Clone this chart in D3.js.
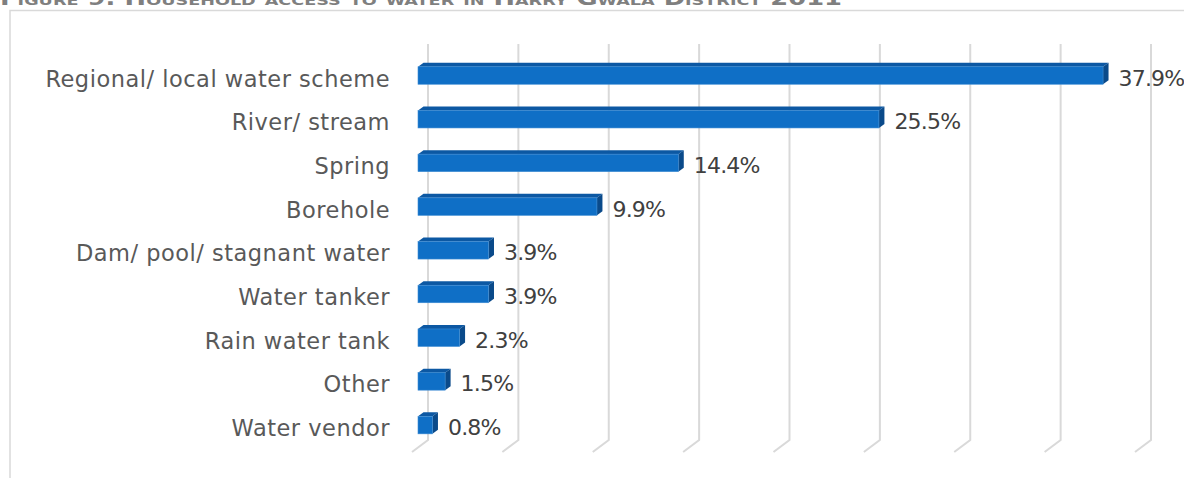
<!DOCTYPE html>
<html>
<head>
<meta charset="utf-8">
<script src="https://cdn.jsdelivr.net/npm/d3@7"></script>
<style>
  html, body { margin: 0; padding: 0; background: #ffffff; overflow: hidden; }
  svg { display: block; }
  text { font-family: "Century Gothic", "URW Gothic", "DejaVu Sans", sans-serif; }
</style>
</head>
<body>
<svg id="chart" width="1184" height="478"></svg>
<script>
// Household water sources, share of households (%)
const categories = [
  "Regional/ local water scheme",
  "River/ stream",
  "Spring",
  "Borehole",
  "Dam/ pool/ stagnant water",
  "Water tanker",
  "Rain water tank",
  "Other",
  "Water vendor"
];
const values = [37.9, 25.5, 14.4, 9.9, 3.9, 3.9, 2.3, 1.5, 0.8];
const tickValues = [0, 5, 10, 15, 20, 25, 30, 35, 40];
const valueLabels = values.map(v => v.toFixed(1) + "%");
const titleText = "Figure 9: Household access to water in Harry Gwala District 2011";

const W = 1184, H = 478;
const svg = d3.select("#chart");

// chart frame (light border, top/left visible)
svg.append("path")
  .attr("d", `M10,${H + 2} L10,10.5 L${W + 2},10.5`)
  .attr("fill", "none")
  .attr("stroke", "#d9d9d9")
  .attr("stroke-width", 1.5);

// title sits above the frame
svg.append("text")
  .attr("x", 0)
  .attr("y", 5)
  .attr("fill", "#7f7f7f")
  .attr("font-weight", "bold")
  .attr("font-size", 19)
  .style("font-variant", "small-caps")
  .attr("textLength", 842)
  .attr("lengthAdjust", "spacingAndGlyphs")
  .text(titleText);

// scales
const x = d3.scaleLinear().domain([0, 40]).range([418, 1141]);
const y = d3.scalePoint().domain(categories).range([53.65, 446.95]).padding(0.5);
const barH = 17.5;

// 3D depth offsets
const depth = { dx: 5.5, dy: -4 };             // bar thickness
const wall = { dx: 10, top: 44, base: 440 };   // back wall gridlines
const floor = { dx: -16, dy: 12 };             // floor run toward the viewer

// gridlines on the back wall with their floor segments
const grid = svg.append("g").attr("class", "grid");
tickValues.forEach(t => {
  const gx = x(t) + wall.dx;
  grid.append("path")
    .attr("d", `M${gx},${wall.top} L${gx},${wall.base} L${gx + floor.dx},${wall.base + floor.dy}`)
    .attr("fill", "none")
    .attr("stroke", "#d9d9d9")
    .attr("stroke-width", 2)
    .attr("stroke-linejoin", "miter");
});

// bars
const bars = svg.append("g").attr("class", "bars")
  .selectAll("g")
  .data(categories.map((c, i) => ({ c, v: values[i], label: valueLabels[i] })))
  .join("g");

bars.each(function(d) {
  const g = d3.select(this);
  const x0 = x(0), x1 = x(d.v);
  const top = y(d.c) - barH / 2, bottom = y(d.c) + barH / 2;
  const { dx, dy } = depth;
  // top face
  g.append("path")
    .attr("d", `M${x0},${top} L${x0 + dx},${top + dy} L${x1 + dx},${top + dy} L${x1},${top} Z`)
    .attr("fill", "#0c58a3");
  // right face
  g.append("path")
    .attr("d", `M${x1},${top} L${x1 + dx},${top + dy} L${x1 + dx},${bottom + dy} L${x1},${bottom} Z`)
    .attr("fill", "#0a4a8a");
  // front face
  g.append("rect")
    .attr("x", x0)
    .attr("y", top)
    .attr("width", x1 - x0)
    .attr("height", barH)
    .attr("fill", "#0f6fc6")
    .attr("stroke", "#3d8bd3")
    .attr("stroke-width", 0.6);
  // value label
  g.append("text")
    .attr("x", x1 + dx + 10)
    .attr("y", y(d.c) + 10)
    .attr("fill", "#404040")
    .attr("font-size", 22)
    .attr("letter-spacing", -0.8)
    .text(d.label);
});

// category labels
svg.append("g").attr("class", "labels")
  .selectAll("text")
  .data(categories)
  .join("text")
  .attr("x", x(0) - 28)
  .attr("y", d => y(d) + 11)
  .attr("text-anchor", "end")
  .attr("fill", "#595959")
  .attr("font-size", 22.5)
  .attr("letter-spacing", 0.5)
  .text(d => d);
</script>
</body>
</html>
